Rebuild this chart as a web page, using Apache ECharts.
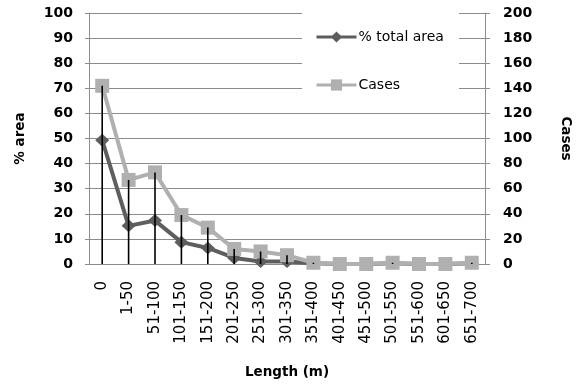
<!DOCTYPE html>
<html>
<head>
<meta charset="utf-8">
<script src="https://cdn.jsdelivr.net/npm/echarts@6/dist/echarts.min.js"></script>
<style>
  html, body { margin: 0; padding: 0; background: #fff; }
  #chart { width: 580px; height: 387px; }
</style>
</head>
<body>
<div id="chart"></div>
<script>
// Length classes (m)
const categories = ['0', '1-50', '51-100', '101-150', '151-200', '201-250', '251-300',
  '301-350', '351-400', '401-450', '451-500', '501-550', '551-600', '601-650', '651-700'];
// Share of total area per length class (%), left axis
const areaPct = [49.3, 15.2, 17.3, 8.7, 6.4, 2.4, 1.0, 1.0, 0.3, 0, 0, 0.3, 0, 0, 0.3];
// Number of cases per length class, right axis
const cases = [142, 67, 73, 39, 29, 12, 10, 7, 1, 0, 0, 1, 0, 0, 1];

const FONT = 'DejaVu Sans';
const GRID_GREY = '#8c8c8c';
const DARK = '#5e5e5e';
const LIGHT = '#b0b0b0';

const chart = echarts.init(document.getElementById('chart'), null, { renderer: 'canvas' });

chart.setOption({
  animation: false,
  backgroundColor: '#fff',
  grid: { left: 89, right: 88, top: 13, bottom: 123 },
  legend: {
    data: ['% total area', 'Cases'],
    orient: 'vertical',
    left: 302,
    top: 13,
    padding: [17, 15, 8, 13],
    backgroundColor: '#fff',
    itemWidth: 40,
    itemHeight: 14,
    itemGap: 34,
    lineStyle: { width: 3 },
    textStyle: { fontFamily: FONT, fontSize: 14, color: '#000', padding: [0, 0, 0, -3] }
  },
  xAxis: {
    type: 'category',
    data: categories,
    boundaryGap: true,
    name: 'Length (m)',
    nameLocation: 'middle',
    nameGap: 101,
    nameTextStyle: { fontFamily: FONT, fontSize: 13.5, fontWeight: 'bold', color: '#000' },
    axisLine: { lineStyle: { color: GRID_GREY, width: 1 } },
    axisTick: { show: false },
    axisLabel: { rotate: 90, margin: 17, fontFamily: FONT, fontSize: 15, color: '#000', interval: 0 }
  },
  yAxis: [
    {
      type: 'value',
      min: 0, max: 100, interval: 10,
      name: '% area',
      nameLocation: 'middle',
      nameGap: 62,
      nameTextStyle: { fontFamily: FONT, fontSize: 13.5, fontWeight: 'bold', color: '#000' },
      axisLine: { show: true, lineStyle: { color: GRID_GREY } },
      axisTick: { show: true, length: 4, lineStyle: { color: GRID_GREY } },
      axisLabel: { margin: 16, fontFamily: FONT, fontSize: 14, fontWeight: 'bold', color: '#000' },
      splitLine: { show: true, lineStyle: { color: GRID_GREY, width: 1 } }
    },
    {
      type: 'value',
      position: 'right',
      min: 0, max: 200, interval: 20,
      name: 'Cases',
      nameLocation: 'middle',
      nameGap: 73,
      nameRotate: -90,
      nameTextStyle: { fontFamily: FONT, fontSize: 13.5, fontWeight: 'bold', color: '#000' },
      axisLine: { show: true, lineStyle: { color: GRID_GREY } },
      axisTick: { show: true, length: 5, lineStyle: { color: GRID_GREY } },
      axisLabel: { margin: 18, fontFamily: FONT, fontSize: 14, fontWeight: 'bold', color: '#000' },
      splitLine: { show: false }
    }
  ],
  series: [
    {
      name: '% total area',
      type: 'line',
      yAxisIndex: 0,
      data: areaPct,
      z: 2,
      symbol: 'diamond',
      symbolSize: [14, 13],
      showAllSymbol: true,
      lineStyle: { color: DARK, width: 4 },
      itemStyle: { color: DARK },
      emphasis: { disabled: true }
    },
    {
      name: 'Cases',
      type: 'line',
      yAxisIndex: 1,
      data: cases,
      z: 3,
      symbol: 'rect',
      symbolSize: 14,
      showAllSymbol: true,
      lineStyle: { color: LIGHT, width: 4 },
      itemStyle: { color: LIGHT },
      emphasis: { disabled: true }
    },
    {
      // drop lines from the highest point of each class down to the axis
      name: 'drop',
      type: 'bar',
      yAxisIndex: 1,
      data: cases,
      barWidth: 1.6,
      z: 4,
      silent: true,
      itemStyle: { color: '#000' }
    }
  ]
});
</script>
</body>
</html>
